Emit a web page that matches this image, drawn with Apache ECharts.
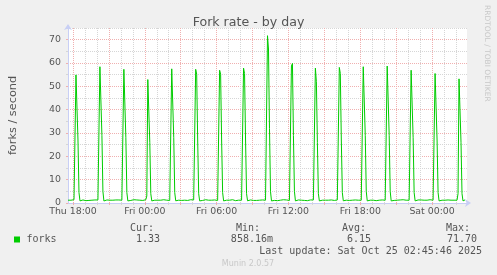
<!DOCTYPE html>
<html><head><meta charset="utf-8">
<script src="https://cdn.jsdelivr.net/npm/echarts@6/dist/echarts.min.js"></script>
<style>html,body{margin:0;padding:0;background:#f0f0f0}#c{width:497px;height:275px}</style>
</head><body><div id="c"></div>
<script>
// time axis: minutes since Thu 00:00; first sample Thu 17:35, one sample every 5 minutes
const startMinute = 1055;
const stepMinutes = 5;
const xMin = 1055, xMax = 3055;

// forks / second, 5-minute samples (Thu 17:35 .. Sat 02:45)
const forks = [
  1.2,1.1,1.3,1.2,1.1,1.2,1.4,1.0,
  54.9,55.5,27,4.5,0.9, 1.2,1.1,1.3,1.2,1.2,1.0,1.3,1.2,1.1,1.2,1.4,1.2,1.1,1.2,1.3,1.1,1.2,1.3,1.2,
  58.4,59.0,29,5,0.86, 1.1,1.2,1.3,1.1,1.2,1.2,1.4,1.1,1.2,1.0,1.2,1.3,1.2,1.1,1.3,1.2,1.1,1.2,1.3,
  57.3,56.9,28,4.5,0.9, 1.2,1.3,1.1,1.2,1.2,1.4,1.2,1.1,1.3,1.2,1.0,1.2,1.2,1.3,1.1,1.2,1.3,1.4,3.0,
  52.9,52.3,26,4,0.9, 1.1,1.2,1.2,1.3,1.1,1.2,1.0,1.3,1.2,1.2,1.1,1.4,1.2,1.1,1.2,1.3,1.2,1.1,1.2,
  57.5,57.8,28,4.5,0.95, 1.2,1.1,1.2,1.3,1.2,1.1,1.2,1.0,1.2,1.3,1.2,1.1,1.2,1.2,1.4,1.1,1.2,1.3,1.2,
  57.3,55.2,27,4,0.9, 1.2,1.2,1.1,1.3,1.2,1.4,1.1,1.2,1.2,1.0,1.3,1.2,1.1,1.2,1.3,1.2,1.2,1.1,1.3,
  56.9,55.2,27,4.5,0.9, 1.1,1.3,1.2,1.2,1.1,1.2,1.3,1.2,1.4,1.1,1.2,1.0,1.2,1.3,1.2,1.1,1.2,1.2,1.3,
  57.8,55.5,27,4,0.95, 1.2,1.1,1.3,1.2,1.2,1.1,1.2,1.3,1.1,1.2,1.4,1.2,1.0,1.2,1.3,1.2,1.1,1.2,1.3,
  71.7,66.0,32,5,0.9, 1.2,1.2,1.1,1.3,1.2,1.0,1.2,1.3,1.2,1.1,1.2,1.4,1.2,1.1,1.3,1.2,1.2,1.1,1.2,
  58.7,59.8,29,5,0.9, 1.1,1.2,1.3,1.2,1.1,1.2,1.2,1.4,1.1,1.2,1.3,1.0,1.2,1.2,1.3,1.1,1.2,1.3,1.2,
  57.8,52.0,26,4,0.9, 1.2,1.3,1.2,1.1,1.2,1.2,1.0,1.3,1.2,1.1,1.2,1.3,1.4,1.2,1.1,1.2,1.2,1.3,1.2,
  58.1,55.5,27,4.5,0.95, 1.2,1.1,1.2,1.3,1.2,1.1,1.4,1.2,1.2,1.0,1.2,1.3,1.1,1.2,1.2,1.3,1.1,1.2,1.3,
  58.4,59.0,29,5,0.9, 1.1,1.2,1.2,1.3,1.1,1.2,1.3,1.2,1.0,1.2,1.4,1.2,1.1,1.2,1.3,1.2,1.1,1.2,1.2,
  58.7,59.3,29,5,0.9, 1.2,1.2,1.1,1.3,1.2,1.2,1.0,1.2,1.3,1.1,1.2,1.4,1.2,1.1,1.2,1.3,1.2,1.2,1.1,
  56.9,56.3,28,4.5,0.9, 1.2,1.1,1.3,1.2,2.0,1.3,1.1,1.2,1.2,1.0,1.3,1.2,1.1,1.2,1.4,1.2,1.1,1.2,1.3,
  55.5,54.9,27,4.5,0.9, 1.1,1.2,1.2,1.3,1.1,1.2,1.0,1.2,1.3,1.2,1.1,1.2,1.4,1.2,1.2,1.1,1.3,1.2,4.0,
  53.2,52.8,26,4,0.9, 1.2,1.33
];

const xLabelMinutes = [1080, 1440, 1800, 2160, 2520, 2880];
const xLabels = ['Thu 18:00', 'Fri 00:00', 'Fri 06:00', 'Fri 12:00', 'Fri 18:00', 'Sat 00:00'];
const xMajorGrid = [1080, 1260, 1440, 1620, 1800, 1980, 2160, 2340, 2520, 2700, 2880];
const xMinorGrid = [1140, 1200, 1320, 1380, 1500, 1560, 1680, 1740, 1860, 1920, 2040, 2100,
                    2220, 2280, 2400, 2460, 2580, 2640, 2760, 2820, 2940, 3000];
const yMajorTicks = [0, 10, 20, 30, 40, 50, 60, 70];
const yMinorTicks = [5, 15, 25, 35, 45, 55, 65, 75];
const yMax = 75;

const title = 'Fork rate - by day';
const yName = 'forks / second';
const seriesName = 'forks';
const statHeaders = ['Cur:', 'Min:', 'Avg:', 'Max:'];
const statValues = ['1.33', '858.16m', '6.15', '71.70'];
const lastUpdate = 'Last update: Sat Oct 25 02:45:46 2025';
const footer = 'Munin 2.0.57';
const sideText = 'RRDTOOL / TOBI OETIKER';

const GREEN = '#00cc00';
const FONT = '#555555';
const AXIS = '#c8cff5';
const MGRID = '#f0b0b0';
const GRID = '#d6d6d6';
const SANS = 'DejaVu Sans';
const MONO = 'DejaVu Sans Mono';

const gridBox = {left: 67, top: 28, width: 400, height: 175};

function gridAxisX(vals, color) {
  return {
    type: 'value', min: xMin, max: xMax, position: 'bottom', gridIndex: 0,
    axisLine: {show: false},
    axisTick: {show: true, customValues: vals, length: 2, lineStyle: {color: color}},
    axisLabel: {show: false},
    splitLine: {show: true, lineStyle: {color: color, width: 1, type: [1, 1]}}
  };
}
function gridAxisY(vals, color) {
  return {
    type: 'value', min: 0, max: yMax, position: 'left', gridIndex: 0,
    axisLine: {show: false},
    axisTick: {show: true, customValues: vals, length: 2, lineStyle: {color: color}},
    axisLabel: {show: false},
    splitLine: {show: true, lineStyle: {color: color, width: 1, type: [1, 1]}}
  };
}

const chart = echarts.init(document.getElementById('c'), null, {renderer: 'canvas'});

const monoStyle = {fontFamily: MONO, fontSize: 10, fill: FONT};
const statRightHeader = [154, 260, 366, 470];
const statRightValue = [160, 273, 371, 477];
const graphics = [];
statHeaders.forEach((h, i) => {
  graphics.push({type: 'text', x: statRightHeader[i], y: 228, style: Object.assign({text: h, align: 'right', verticalAlign: 'middle'}, monoStyle)});
  graphics.push({type: 'text', x: statRightValue[i], y: 239.5, style: Object.assign({text: statValues[i], align: 'right', verticalAlign: 'middle'}, monoStyle)});
});
graphics.push({type: 'rect', shape: {x: 14, y: 236.5, width: 6, height: 6}, style: {fill: GREEN}});
graphics.push({type: 'text', x: 26.5, y: 239.5, style: Object.assign({text: seriesName, align: 'left', verticalAlign: 'middle'}, monoStyle)});
graphics.push({type: 'text', x: 482, y: 251, style: Object.assign({text: lastUpdate, align: 'right', verticalAlign: 'middle'}, monoStyle)});
graphics.push({type: 'text', x: 248, y: 264, style: {text: footer, align: 'center', verticalAlign: 'middle', fontFamily: SANS, fontSize: 8, fill: '#c8c8c8'}});
graphics.push({type: 'text', x: 487, y: 5, rotation: -Math.PI / 2, style: {text: sideText, align: 'left', verticalAlign: 'middle', fontFamily: SANS, fontSize: 7.5, fill: '#c8c8c8'}});

chart.setOption({
  animation: false,
  backgroundColor: '#f0f0f0',
  title: {
    text: title, left: 'center', top: 11,
    textStyle: {fontFamily: SANS, fontSize: 12.6, fontWeight: 'normal', color: FONT}
  },
  grid: Object.assign({show: true, backgroundColor: '#ffffff', borderWidth: 0, containLabel: false}, gridBox),
  xAxis: [
    gridAxisX(xMinorGrid, GRID),
    gridAxisX(xMajorGrid, MGRID),
    {
      type: 'value', min: xMin, max: xMax, position: 'bottom', gridIndex: 0,
      axisLine: {show: true, lineStyle: {color: AXIS, width: 1}, symbol: ['none', 'arrow'], symbolSize: [6, 6], symbolOffset: [0, 4]},
      axisTick: {show: false, customValues: xLabelMinutes},
      axisLabel: {
        show: true, customValues: xLabelMinutes, margin: 4,
        fontFamily: SANS, fontSize: 9.4, color: FONT,
        formatter: v => xLabels[xLabelMinutes.indexOf(v)] || ''
      },
      splitLine: {show: false}
    }
  ],
  yAxis: [
    gridAxisY(yMinorTicks, GRID),
    gridAxisY(yMajorTicks, MGRID),
    {
      type: 'value', min: 0, max: yMax, position: 'left', gridIndex: 0,
      name: yName, nameLocation: 'middle', nameGap: 49, nameRotate: 90,
      nameTextStyle: {fontFamily: SANS, fontSize: 11.3, color: FONT},
      axisLine: {show: true, lineStyle: {color: AXIS, width: 1}, symbol: ['none', 'arrow'], symbolSize: [6, 6], symbolOffset: [0, 4]},
      axisTick: {show: false, customValues: yMajorTicks},
      axisLabel: {show: true, customValues: yMajorTicks, margin: 7, fontFamily: SANS, fontSize: 9.4, color: FONT},
      splitLine: {show: false}
    }
  ],
  series: [{
    name: seriesName, type: 'line', xAxisIndex: 2, yAxisIndex: 2,
    data: forks.map((v, i) => [startMinute + i * stepMinutes, v]),
    showSymbol: false, symbol: 'none',
    lineStyle: {color: GREEN, width: 1},
    itemStyle: {color: GREEN},
    z: 5
  }],
  graphic: graphics
});
</script>
</body></html>
